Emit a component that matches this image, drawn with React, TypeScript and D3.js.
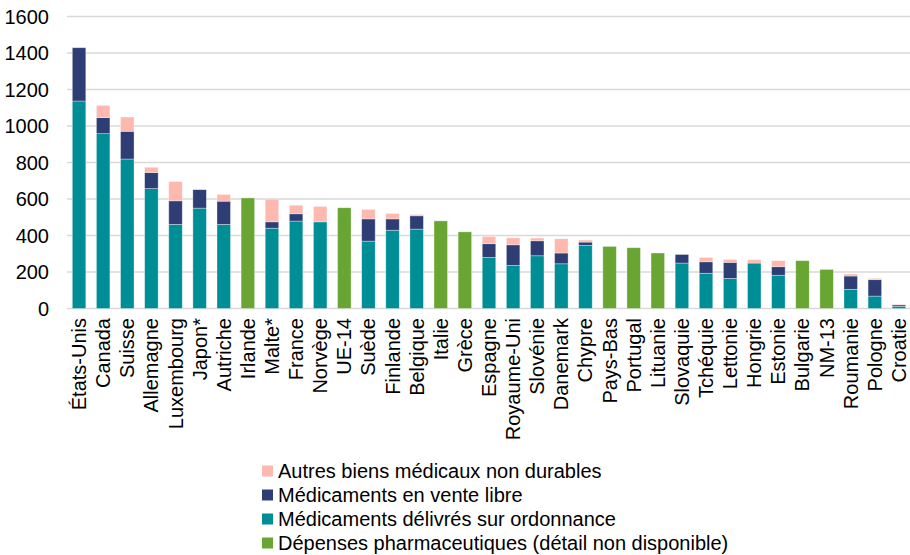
import React from "react";
import * as d3 from "d3";

const categories = ["États-Unis","Canada","Suisse","Allemagne","Luxembourg","Japon*","Autriche","Irlande","Malte*","France","Norvège","UE-14","Suède","Finlande","Belgique","Italie","Grèce","Espagne","Royaume-Uni","Slovénie","Danemark","Chypre","Pays-Bas","Portugal","Lituanie","Slovaquie","Tchéquie","Lettonie","Hongrie","Estonie","Bulgarie","NM-13","Roumanie","Pologne","Croatie"];

// Dépenses pharmaceutiques (détail non disponible)
const pharma = [0,0,0,0,0,0,0,606,0,0,0,552,0,0,0,480,420,0,0,0,0,0,340,333,304,0,0,0,0,0,262,214,0,0,0];
// Médicaments délivrés sur ordonnance
const rx = [1137,958,819,657,461,550,461,0,440,479,475,0,369,429,435,0,0,280,236,289,245,346,0,0,0,249,193,165,249,182,0,0,105,68,12];
// Médicaments en vente libre
const otc = [292,88,152,88,129,102,127,0,35,40,0,0,122,62,73,0,0,75,113,82,59,18,0,0,0,47,63,88,0,47,0,0,73,90,8];
// Autres biens médicaux non durables
const other = [0,67,78,29,106,3,37,0,124,47,84,0,52,30,7,0,0,40,38,15,78,11,0,0,0,0,24,16,18,33,0,0,11,7,3];

const yTicks = [0,200,400,600,800,1000,1200,1400,1600];

const seriesKeys = ["pharma","rx","otc","other"];
const seriesColors: Record<string,string> = {
  pharma: "#68A533",
  rx: "#008E96",
  otc: "#2E3E75",
  other: "#FDB8AF",
};
const legendItems = [
  { key: "other", label: "Autres biens médicaux non durables" },
  { key: "otc", label: "Médicaments en vente libre" },
  { key: "rx", label: "Médicaments délivrés sur ordonnance" },
  { key: "pharma", label: "Dépenses pharmaceutiques (détail non disponible)" },
];

const FONT = "'Liberation Sans', Arial, sans-serif";

export default function App() {
  const W = 910, H = 555;
  const x = d3.scaleBand<string>().domain(categories).range([67, 911]).paddingInner(0.44).paddingOuter(0.22);
  const y = d3.scaleLinear().domain([0, 1600]).range([308.5, 16.5]);

  const rows = categories.map((c, i) => ({ cat: c, pharma: pharma[i], rx: rx[i], otc: otc[i], other: other[i] }));
  const stacked = d3.stack<any>().keys(seriesKeys)(rows);

  return (
    <svg width={W} height={H} style={{ position: "absolute", left: 0, top: 0, background: "#fff" }} fontFamily={FONT}>
      {yTicks.map((t) => (
        <g key={t}>
          <line x1={67} x2={910} y1={y(t)} y2={y(t)} stroke="#D9D9D9" strokeWidth={1.5} />
          <text x={49} y={y(t)} dy="0.35em" textAnchor="end" fontSize={20} fill="#000">{t}</text>
        </g>
      ))}
      {stacked.map((s) => (
        <g key={s.key} fill={seriesColors[s.key]}>
          {s.map((d, i) => {
            const h = y(d[0]) - y(d[1]);
            if (h <= 0) return null;
            return (
              <rect key={i} x={x(categories[i])} width={x.bandwidth()} y={y(d[1])} height={h}
                stroke="#ffffff" strokeOpacity={0.45} strokeWidth={0.75} />
            );
          })}
        </g>
      ))}
      {categories.map((c) => {
        const cx = (x(c) as number) + x.bandwidth() / 2;
        return (
          <text key={c} transform={`translate(${cx},${318}) rotate(-90)`} textAnchor="end" dy="0.35em" fontSize={20} fill="#000">{c}</text>
        );
      })}
      {legendItems.map((it, i) => (
        <g key={it.key} transform={`translate(262,${471 + i * 24})`}>
          <rect x={0} y={-5.5} width={11} height={11} fill={seriesColors[it.key]} />
          <text x={16} y={0} dy="0.35em" fontSize={20} fill="#000">{it.label}</text>
        </g>
      ))}
    </svg>
  );
}
